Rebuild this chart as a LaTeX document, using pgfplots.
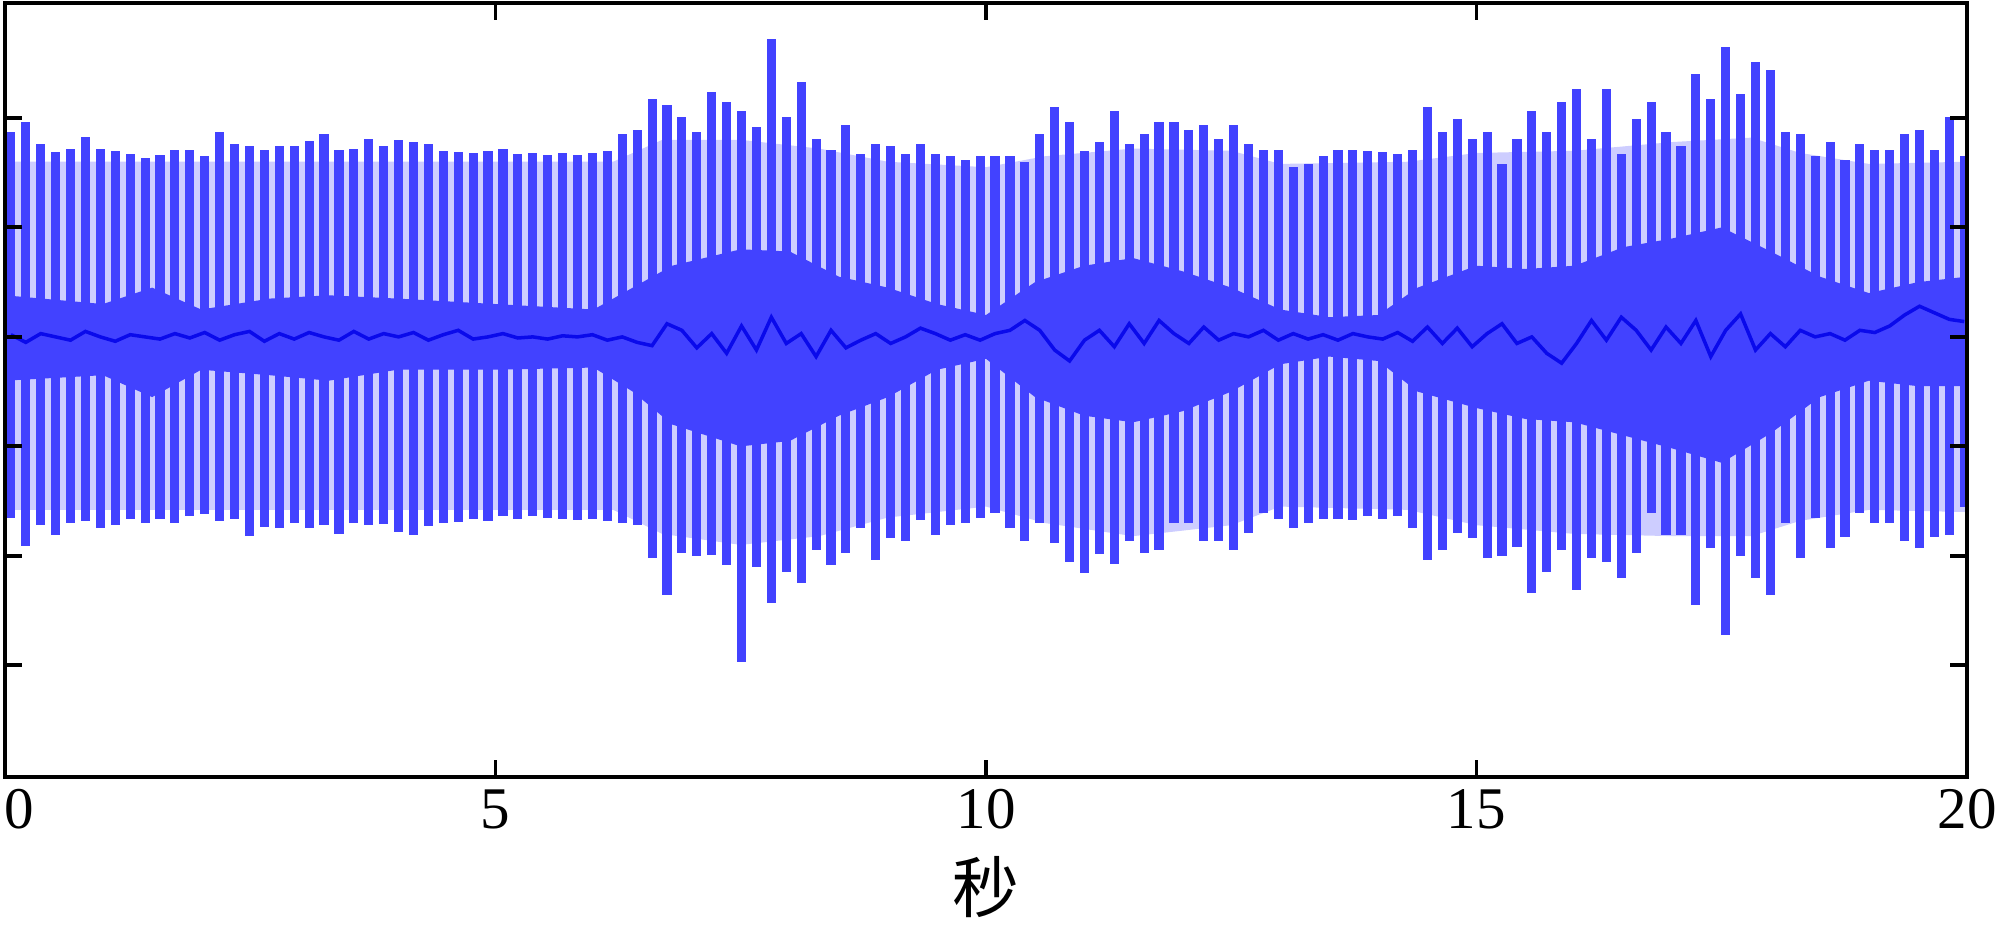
\documentclass[border=0pt]{standalone}
\usepackage{fontspec}
\setmainfont{Liberation Serif}
\newfontfamily\cjk{Noto Sans CJK SC}
\usepackage{pgfplots}
\pgfplotsset{compat=1.18}
\usepgfplotslibrary{fillbetween}
\usepackage{pgfplotstable}

\definecolor{barblue}{RGB}{66,66,255}
\definecolor{gapblue}{RGB}{205,205,255}
\definecolor{darkb}{RGB}{10,10,235}

% spikes: time, top, bottom, baseline
\pgfplotstableread{
t hi lo m
0.060 1.87 -1.65 0.02
0.212 1.96 -1.91 -0.05
0.364 1.76 -1.72 0.03
0.516 1.69 -1.81 0.00
0.668 1.72 -1.70 -0.03
0.820 1.83 -1.68 0.05
0.972 1.72 -1.75 0.00
1.124 1.70 -1.72 -0.04
1.276 1.67 -1.66 0.02
1.428 1.63 -1.70 0.00
1.580 1.66 -1.66 -0.02
1.732 1.71 -1.70 0.03
1.884 1.71 -1.64 -0.01
2.036 1.65 -1.62 0.04
2.188 1.87 -1.68 -0.03
2.340 1.76 -1.66 0.02
2.492 1.74 -1.82 0.05
2.644 1.71 -1.74 -0.04
2.796 1.74 -1.75 0.03
2.948 1.74 -1.70 -0.02
3.100 1.79 -1.75 0.04
3.252 1.85 -1.72 0.00
3.404 1.71 -1.80 -0.03
3.556 1.72 -1.70 0.05
3.708 1.81 -1.72 -0.02
3.860 1.74 -1.71 0.03
4.012 1.80 -1.78 0.00
4.164 1.78 -1.81 0.04
4.316 1.76 -1.73 -0.03
4.468 1.70 -1.70 0.02
4.620 1.69 -1.69 0.06
4.772 1.68 -1.66 -0.02
4.924 1.70 -1.68 0.00
5.076 1.72 -1.64 0.03
5.228 1.67 -1.66 -0.01
5.380 1.68 -1.64 0.00
5.532 1.66 -1.65 -0.02
5.684 1.68 -1.66 0.01
5.836 1.66 -1.67 0.00
5.988 1.68 -1.66 0.02
6.140 1.70 -1.68 -0.03
6.292 1.85 -1.70 0.00
6.444 1.89 -1.72 -0.05
6.596 2.17 -2.02 -0.08
6.748 2.12 -2.36 0.12
6.900 2.01 -1.97 0.06
7.052 1.87 -2.00 -0.10
7.204 2.24 -1.99 0.03
7.356 2.15 -2.08 -0.15
7.508 2.06 -2.97 0.10
7.660 1.92 -2.10 -0.12
7.812 2.72 -2.43 0.18
7.964 2.01 -2.15 -0.06
8.116 2.33 -2.25 0.03
8.268 1.81 -1.95 -0.18
8.420 1.71 -2.08 0.06
8.572 1.94 -1.97 -0.10
8.724 1.67 -1.75 -0.03
8.876 1.76 -2.04 0.03
9.028 1.74 -1.84 -0.06
9.180 1.67 -1.86 0.00
9.332 1.76 -1.67 0.08
9.484 1.67 -1.81 0.03
9.636 1.65 -1.72 -0.03
9.788 1.62 -1.70 0.02
9.940 1.65 -1.65 -0.03
10.092 1.65 -1.61 0.03
10.244 1.65 -1.75 0.06
10.396 1.60 -1.86 0.15
10.548 1.85 -1.70 0.06
10.700 2.10 -1.88 -0.12
10.852 1.96 -2.06 -0.22
11.004 1.70 -2.16 -0.03
11.156 1.78 -1.98 0.06
11.308 2.06 -2.07 -0.09
11.460 1.76 -1.86 0.12
11.612 1.85 -1.97 -0.06
11.764 1.96 -1.95 0.15
11.916 1.96 -1.70 0.03
12.068 1.89 -1.70 -0.06
12.220 1.94 -1.86 0.09
12.372 1.81 -1.86 -0.03
12.524 1.94 -1.95 0.03
12.676 1.76 -1.79 0.00
12.828 1.71 -1.61 0.06
12.980 1.71 -1.66 -0.03
13.132 1.55 -1.75 0.03
13.284 1.58 -1.70 -0.02
13.436 1.65 -1.66 0.02
13.588 1.71 -1.66 -0.03
13.740 1.71 -1.67 0.03
13.892 1.70 -1.64 0.00
14.044 1.69 -1.66 -0.02
14.196 1.67 -1.64 0.04
14.348 1.71 -1.75 -0.04
14.500 2.10 -2.04 0.09
14.652 1.87 -1.95 -0.06
14.804 1.99 -1.79 0.08
14.956 1.81 -1.84 -0.09
15.108 1.87 -2.02 0.03
15.260 1.58 -2.00 0.12
15.412 1.81 -1.92 -0.06
15.564 2.06 -2.34 0.00
15.716 1.87 -2.15 -0.15
15.868 2.15 -1.95 -0.24
16.020 2.26 -2.31 -0.06
16.172 1.81 -2.02 0.15
16.324 2.26 -2.06 -0.03
16.476 1.67 -2.20 0.18
16.628 1.99 -1.97 0.06
16.780 2.15 -1.61 -0.12
16.932 1.87 -1.81 0.09
17.084 1.74 -1.81 -0.06
17.236 2.40 -2.45 0.15
17.388 2.17 -1.93 -0.18
17.540 2.65 -2.72 0.06
17.692 2.22 -2.00 0.21
17.844 2.51 -2.20 -0.12
17.996 2.44 -2.36 0.03
18.148 1.87 -1.70 -0.09
18.300 1.85 -2.02 0.06
18.452 1.65 -1.65 0.00
18.604 1.78 -1.93 0.03
18.756 1.62 -1.83 -0.03
18.908 1.76 -1.61 0.06
19.060 1.71 -1.70 0.04
19.212 1.71 -1.70 0.10
19.364 1.85 -1.86 0.20
19.516 1.89 -1.93 0.28
19.668 1.71 -1.83 0.22
19.820 2.01 -1.81 0.16
19.972 1.65 -1.55 0.14
}\spikes

% dense central band
\pgfplotstableread{
t up lo
0.0 0.38 -0.40
1.0 0.30 -0.35
1.5 0.45 -0.55
2.0 0.25 -0.30
2.7 0.35 -0.35
3.3 0.38 -0.40
4.0 0.35 -0.30
5.0 0.30 -0.30
6.0 0.25 -0.28
6.4 0.45 -0.50
6.8 0.65 -0.80
7.5 0.80 -1.00
8.0 0.78 -0.95
8.5 0.55 -0.72
9.0 0.45 -0.55
9.5 0.30 -0.30
10.0 0.20 -0.20
10.5 0.50 -0.55
11.0 0.65 -0.72
11.5 0.72 -0.78
12.0 0.60 -0.68
12.5 0.45 -0.50
13.0 0.25 -0.25
13.5 0.18 -0.18
14.0 0.20 -0.22
14.4 0.45 -0.50
15.0 0.65 -0.65
15.5 0.62 -0.75
16.0 0.65 -0.78
16.5 0.82 -0.90
17.0 0.90 -1.02
17.5 1.00 -1.15
18.0 0.78 -0.88
18.5 0.55 -0.55
19.0 0.40 -0.40
19.5 0.50 -0.45
20.0 0.55 -0.45
}\band

% outer envelope of the spikes
\pgfplotstableread{
t up lo
0.0 1.60 -1.58
3.0 1.60 -1.58
6.2 1.60 -1.58
6.7 1.80 -1.80
7.5 1.80 -1.90
8.3 1.72 -1.82
9.0 1.60 -1.65
10.0 1.55 -1.55
10.6 1.65 -1.70
11.5 1.72 -1.82
12.5 1.70 -1.72
13.0 1.58 -1.55
14.3 1.60 -1.58
15.0 1.68 -1.72
16.0 1.70 -1.80
17.0 1.78 -1.82
17.8 1.82 -1.82
18.3 1.68 -1.68
19.0 1.58 -1.58
20.0 1.60 -1.60
}\env

\begin{document}
\begin{tikzpicture}
\begin{axis}[
  name=main,
  scale only axis,
  width=196.2mm, height=77.4mm,
  xmin=0, xmax=20, ymin=-4.02, ymax=3.05,
  xtick={0,5,10,15,20},
  xticklabels={{\hphantom{0}0},5,10,15,20},
  ytick={-3,-2,-1,0,1,2},
  yticklabels={},
  tick align=inside,
  major tick length=1.7mm,
  every tick/.style={black, line width=1.1pt},
  axis line style={black, line width=1.4pt},
  /pgf/number format/assume math mode=true,
  ticklabel style={font=\fontsize{16.8}{20}\selectfont},
  xlabel={\cjk 秒},
  xlabel style={font=\fontsize{19}{22}\selectfont, yshift=-0.3mm},
  clip=true,
  axis on top,
]
\addplot[name path=eu, draw=none] table[x=t, y=up] {\env};
\addplot[name path=el, draw=none] table[x=t, y=lo] {\env};
\addplot[gapblue] fill between[of=eu and el];
\addplot[ycomb, barblue, line width=2.6pt, no marks] table[x=t, y=hi] {\spikes};
\addplot[ycomb, barblue, line width=2.6pt, no marks] table[x=t, y=lo] {\spikes};
\addplot[name path=bu, draw=none] table[x=t, y=up] {\band};
\addplot[name path=bl, draw=none] table[x=t, y=lo] {\band};
\addplot[barblue] fill between[of=bu and bl];
\addplot[darkb, line width=1pt, no marks] table[x=t, y=m] {\spikes};
\end{axis}
\pgfresetboundingbox
\path[use as bounding box] ([xshift=-0.5mm, yshift=-16.1mm]main.south west) rectangle ([xshift=3.3mm, yshift=0.3mm]main.north east);
\end{tikzpicture}
\end{document}
